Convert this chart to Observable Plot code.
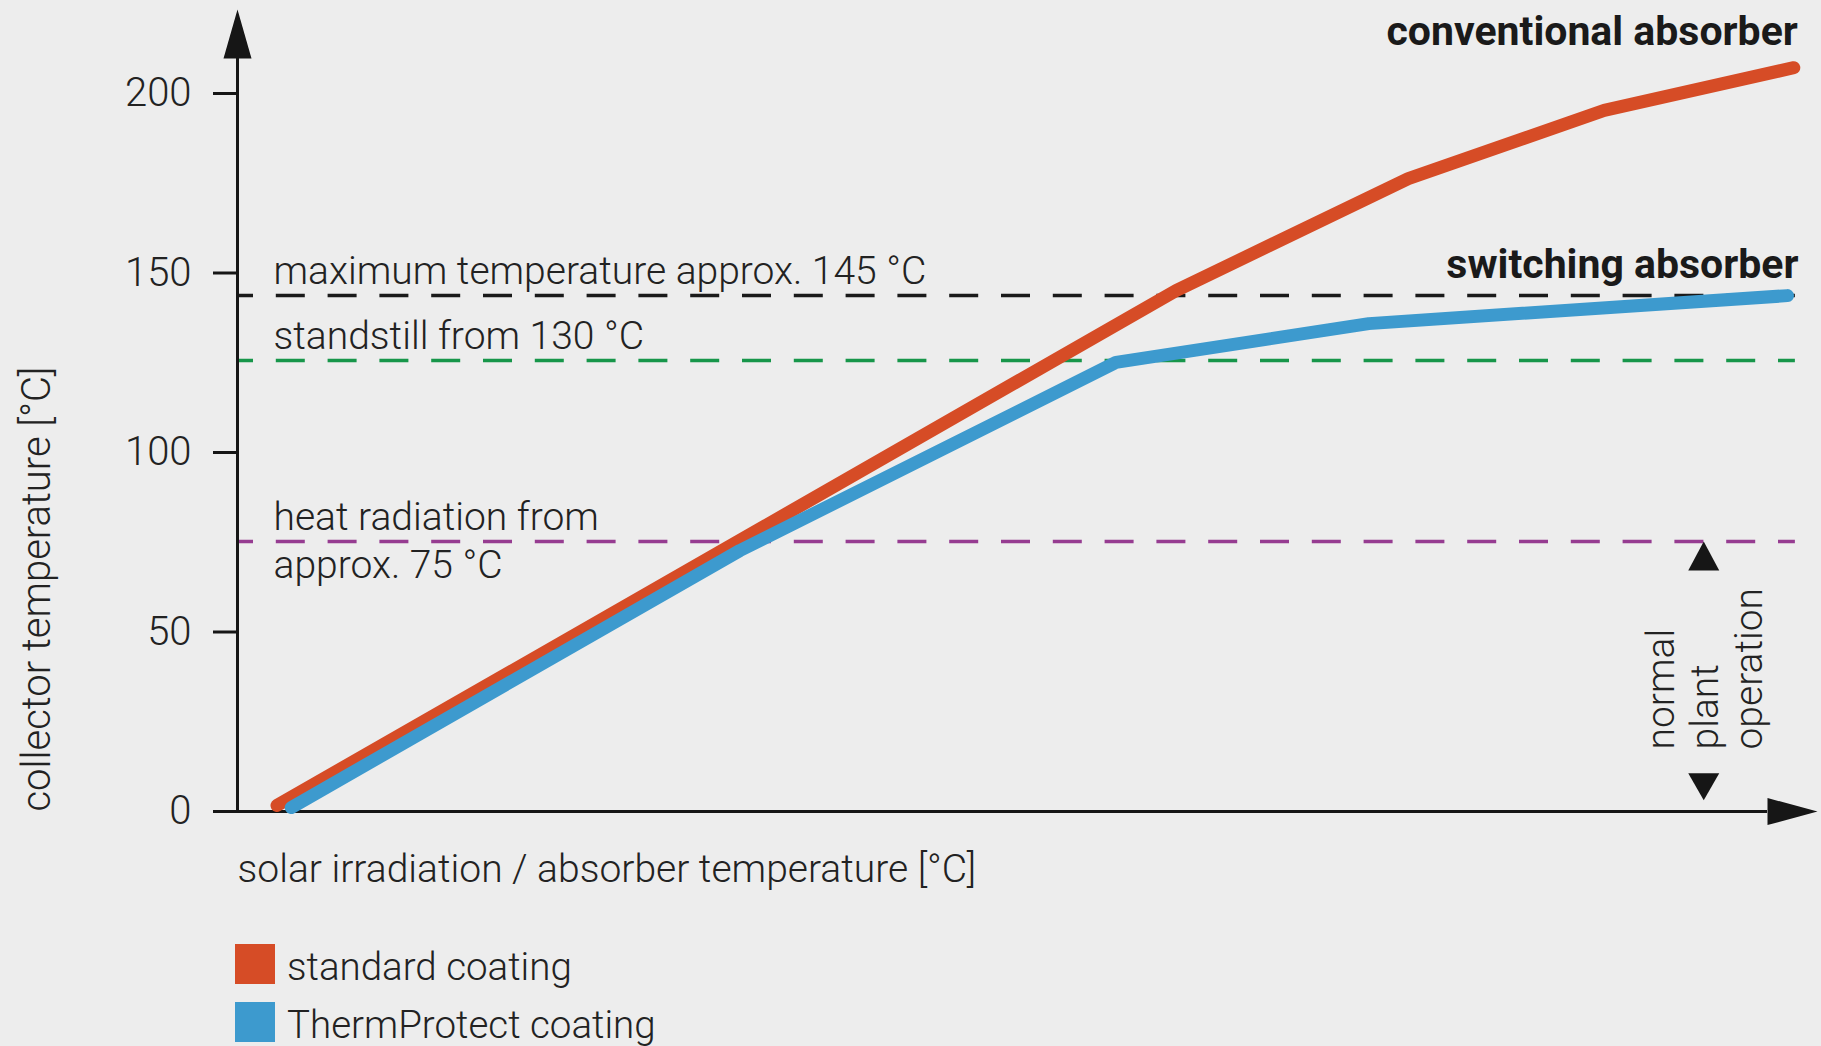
<!DOCTYPE html>
<html>
<head>
<meta charset="utf-8">
<script src="https://cdn.jsdelivr.net/npm/d3@7"></script>
<script src="https://cdn.jsdelivr.net/npm/@observablehq/plot@0.6"></script>
<style>
  html, body { margin: 0; padding: 0; background: #ededed; }
  body { width: 1821px; height: 1046px; overflow: hidden; font-family: Roboto, "Open Sans", sans-serif; font-weight: 300; color: #222; }
  #chart svg { display: block; }
  #legend { margin-top: 44px; padding-left: 235px; display: flex; flex-direction: column; gap: 18px; }
  .row { display: flex; align-items: center; height: 40px; font-size: 38.5px; }
  .row span { position: relative; top: 2px; }
  .sw { width: 40px; height: 40px; margin-right: 12px; flex: none; }
</style>
</head>
<body>
<div id="chart"></div>
<div id="legend"></div>
<script>
// ---- data ----
const seriesNames = ["standard coating", "ThermProtect coating"];
const seriesColors = ["#d64c26", "#3d9ace"];
const standardX = [2.5, 59.4, 74.1, 86.5, 98.5];
const standardY = [1.7, 145.1, 176.3, 195.3, 207.2];
const thermX = [3.4, 31.8, 55.6, 71.6, 98.1];
const thermY = [1.1, 72.7, 125.1, 135.9, 143.7];
const yTicks = [0, 50, 100, 150, 200];
const thresholdValues = [143.7, 125.6, 75.2];
const thresholdLabels = ["maximum temperature approx. 145 °C", "standstill from 130 °C", "heat radiation from\napprox. 75 °C"];
const thresholdColors = ["#1a1a1a", "#17964a", "#963c91"];
const curveLabels = ["conventional absorber", "switching absorber"];
const xTitle = "solar irradiation / absorber temperature [°C]";
const yTitle = "collector temperature [°C]";
const normalOpLabel = "normal\nplant\noperation";
const normalOpX = 92.8;           // position of the "normal plant operation" band
const normalOpRange = [3.1, 75.2]; // from near 0 up to heat radiation line

// ---- build tables ----
const rows = [];
standardX.forEach((x, i) => rows.push({series: seriesNames[0], x, y: standardY[i]}));
thermX.forEach((x, i) => rows.push({series: seriesNames[1], x, y: thermY[i]}));
const thresholds = thresholdValues.map((v, i) => ({value: v, label: thresholdLabels[i], color: thresholdColors[i]}));

const xDomain = [0, 100];
const yDomain = [0, 200];
const ruleEnd = 98.6;
const pxX = (xDomain[1] - xDomain[0]) / (1817 - 237);   // data units per px
const pxY = (yDomain[1] - yDomain[0]) / (811 - 93);
// arrowheads (decoration), sized in px and converted to data units
const yArrowTip = (811 - 9) * pxY, yArrowBase = (811 - 58) * pxY, yArrowHalf = 14 * pxX;
const xArrowTip = 100, xArrowBase = 100 - 50 * pxX, xArrowHalf = 13.5 * pxY;
const yArrow = [{x: -yArrowHalf, y: yArrowBase}, {x: 0, y: yArrowTip}, {x: yArrowHalf, y: yArrowBase}];
const xArrow = [{x: xArrowBase, y: xArrowHalf}, {x: xArrowTip, y: 0}, {x: xArrowBase, y: -xArrowHalf}];
const triHalf = 15.5 * pxX, triLen = 29 * pxY;
const upTri = [{x: normalOpX - triHalf, y: normalOpRange[1] - triLen}, {x: normalOpX, y: normalOpRange[1]}, {x: normalOpX + triHalf, y: normalOpRange[1] - triLen}];
const downTri = [{x: normalOpX - triHalf, y: normalOpRange[0] + 27 * pxY}, {x: normalOpX, y: normalOpRange[0]}, {x: normalOpX + triHalf, y: normalOpRange[0] + 27 * pxY}];

const font = 'Roboto, "Open Sans", sans-serif';
const ink = "#161616";
const fs = 39;

const marks = [];
// dashed threshold lines
thresholds.forEach(t => {
  marks.push(Plot.ruleY([t], {y: "value", x1: 0, x2: ruleEnd, stroke: t.color, strokeWidth: 3.5, strokeDasharray: "29,22.8", strokeDashoffset: 13}));
});
// threshold labels
marks.push(Plot.text(thresholds.slice(0, 2), {y: "value", text: "label", frameAnchor: "left", dx: 36, dy: -24, textAnchor: "start", lineAnchor: "middle", fontSize: fs, fontWeight: 300, fill: "#222"}));
marks.push(Plot.text(thresholds.slice(2), {y: "value", text: "label", frameAnchor: "left", dx: 36, dy: -3, textAnchor: "start", lineAnchor: "middle", lineHeight: 1.22, fontSize: fs, fontWeight: 300, fill: "#222"}));
// axes lines
marks.push(Plot.ruleX([0], {y1: 0, y2: yArrowBase, stroke: ink, strokeWidth: 3}));
marks.push(Plot.ruleY([0], {x1: 0, x2: xArrowBase, stroke: ink, strokeWidth: 3}));
marks.push(Plot.line(yArrow, {x: "x", y: "y", fill: ink, stroke: "none"}));
marks.push(Plot.line(xArrow, {x: "x", y: "y", fill: ink, stroke: "none"}));
// y axis ticks
marks.push(Plot.axisY(yTicks, {tickSize: 24, tickPadding: 22, fontSize: fs + 1, fontWeight: 300, stroke: ink, strokeWidth: 3, fill: "#222", label: null}));
// series lines
marks.push(Plot.line(rows, {x: "x", y: "y", z: "series", stroke: "series", strokeWidth: 13, strokeLinecap: "round", strokeLinejoin: "round"}));
// curve labels
const ends = [
  {label: curveLabels[0], x: standardX[standardX.length - 1], y: standardY[standardY.length - 1], dx: 4, dy: -36},
  {label: curveLabels[1], x: thermX[thermX.length - 1], y: thermY[thermY.length - 1], dx: 11, dy: -31}
];
ends.forEach(e => marks.push(Plot.text([e], {x: "x", y: "y", text: "label", textAnchor: "end", lineAnchor: "middle", dx: e.dx, dy: e.dy, fontSize: 41, fontWeight: 700, fill: "#1a1a1a"})));
// normal plant operation
marks.push(Plot.line(upTri, {x: "x", y: "y", fill: ink, stroke: "none"}));
marks.push(Plot.line(downTri, {x: "x", y: "y", fill: ink, stroke: "none"}));
marks.push(Plot.text([normalOpLabel], {x: normalOpX, y: (811 - 749) * pxY, text: d => d, rotate: -90, textAnchor: "start", lineAnchor: "middle", lineHeight: 1.13, fontSize: fs, fontWeight: 300, fill: "#222"}));
// axis titles
marks.push(Plot.text([yTitle], {frameAnchor: "bottom-left", text: d => d, rotate: -90, textAnchor: "start", lineAnchor: "middle", dx: -200, fontSize: fs + 1, fontWeight: 300, fill: "#222"}));
marks.push(Plot.text([xTitle], {frameAnchor: "bottom-left", text: d => d, textAnchor: "start", lineAnchor: "middle", dy: 58, fontSize: fs, fontWeight: 300, fill: "#222"}));

const chart = Plot.plot({
  width: 1821,
  height: 900,
  marginLeft: 237,
  marginRight: 4,
  marginTop: 93,
  marginBottom: 89,
  x: {domain: xDomain, axis: null},
  y: {domain: yDomain, axis: null},
  color: {domain: seriesNames, range: seriesColors},
  style: {background: "transparent", fontFamily: font, overflow: "visible"},
  marks
});
document.getElementById("chart").appendChild(chart);

// legend
const legend = document.getElementById("legend");
seriesNames.forEach((name, i) => {
  const row = document.createElement("div");
  row.className = "row";
  const sw = document.createElement("div");
  sw.className = "sw";
  sw.style.background = seriesColors[i];
  const label = document.createElement("span");
  label.textContent = name;
  row.appendChild(sw);
  row.appendChild(label);
  legend.appendChild(row);
});
</script>
</body>
</html>
